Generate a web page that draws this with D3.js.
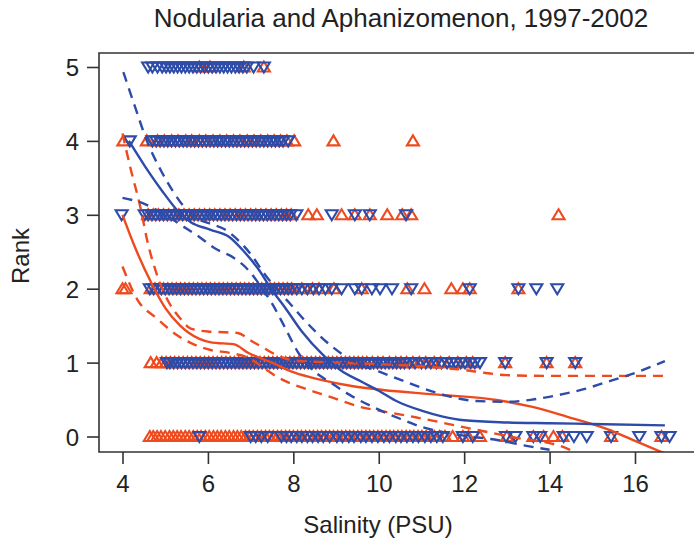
<!DOCTYPE html>
<html>
<head>
<meta charset="utf-8">
<script src="https://cdn.jsdelivr.net/npm/d3@7"></script>
<style>
  body { margin: 0; background: #fff; }
  text { font-family: "Liberation Sans", Arial, sans-serif; fill: #222; }
</style>
</head>
<body>
<div id="chart"></div>
<script>
// salinity values (PSU) of the observations, one array per rank
// Nodularia (orange, up triangles)
const nod0 = [4.64,4.72,4.81,4.9,5.0,5.1,5.19,5.28,5.37,5.47,5.56,5.66,5.75,5.84,5.94,6.03,6.13,6.22,6.31,6.41,6.5,6.6,6.69,6.78,6.88,6.97,7.06,7.16,7.25,7.35,7.44,7.53,7.63,7.72,7.82,7.91,8.0,8.1,8.19,8.29,8.38,8.47,8.57,8.66,8.76,8.85,8.94,9.04,9.13,9.23,9.32,9.41,9.51,9.6,9.7,9.79,9.88,9.98,10.07,10.17,10.26,10.35,10.45,10.54,10.64,10.73,10.82,10.92,11.01,11.11,11.2,11.3,11.42,11.55,11.73,11.97,12.1,12.37,13.0,13.62,13.86,14.09,14.3,15.44,16.62];
const nod1 = [4.66,4.8,4.92,5.02,5.12,5.22,5.32,5.42,5.52,5.62,5.72,5.82,5.92,6.02,6.12,6.22,6.32,6.42,6.52,6.62,6.72,6.82,6.92,7.02,7.12,7.22,7.32,7.42,7.52,7.62,7.72,7.82,7.92,8.02,8.12,8.22,8.32,8.42,8.52,8.62,8.72,8.82,8.92,9.02,9.12,9.22,9.32,9.42,9.52,9.62,9.72,9.85,9.98,10.1,10.25,10.4,10.52,10.65,10.8,10.95,11.1,11.3,11.45,11.65,11.85,12.05,12.2,12.96,13.93,14.6];
const nod2 = [4.0,4.07,4.66,4.76,4.86,4.96,5.06,5.16,5.26,5.36,5.46,5.56,5.66,5.76,5.86,5.96,6.06,6.16,6.26,6.36,6.46,6.56,6.66,6.76,6.86,6.96,7.06,7.16,7.26,7.36,7.46,7.56,7.66,7.76,7.86,7.96,8.2,8.45,8.6,8.95,9.6,10.67,11.07,11.7,11.97,12.13,13.27];
const nod3 = [4.6,4.72,4.84,4.96,5.08,5.2,5.32,5.44,5.56,5.68,5.8,5.92,6.04,6.16,6.28,6.4,6.52,6.64,6.76,6.88,7.0,7.12,7.24,7.36,7.48,7.6,7.72,7.84,7.95,8.35,8.55,9.13,9.44,9.79,10.2,10.55,10.76,14.21];
const nod4 = [4.02,4.57,4.82,4.98,5.15,5.3,5.48,5.62,5.8,5.95,6.12,6.28,6.44,6.6,6.75,6.92,7.08,7.24,7.4,7.55,7.7,7.85,8.02,8.94,10.8];
const nod5 = [5.8,6.05,6.84,7.31];

// Aphanizomenon (blue, down triangles)
const aph0 = [5.8,7.0,7.12,7.25,7.4,7.72,7.84,7.95,8.08,8.2,8.33,8.45,8.58,8.7,8.85,9.02,9.15,9.3,9.42,9.58,9.7,9.84,9.98,10.12,10.25,10.4,10.52,10.66,10.8,10.93,11.08,11.22,11.36,11.5,11.97,12.2,12.98,13.2,13.62,13.78,14.33,14.57,14.87,15.44,16.1,16.62,16.81];
const aph1 = [5.04,5.11,5.2,5.29,5.38,5.47,5.56,5.65,5.74,5.83,5.92,6.01,6.1,6.19,6.28,6.37,6.46,6.55,6.64,6.73,6.82,6.91,7.0,7.09,7.18,7.27,7.36,7.45,7.54,7.63,7.72,7.81,7.9,7.99,8.08,8.17,8.26,8.35,8.44,8.53,8.62,8.71,8.8,8.89,8.98,9.07,9.16,9.25,9.34,9.43,9.52,9.61,9.7,9.79,9.88,9.97,10.06,10.15,10.24,10.33,10.42,10.51,10.6,10.72,10.85,11.0,11.1,11.22,11.35,11.47,11.6,11.7,11.8,11.92,12.02,12.15,12.25,12.37,12.96,13.93,14.6];
const aph2 = [4.64,4.73,4.82,4.91,5.0,5.09,5.18,5.27,5.36,5.45,5.54,5.63,5.72,5.81,5.9,5.99,6.08,6.17,6.26,6.35,6.44,6.53,6.62,6.71,6.8,6.89,6.98,7.07,7.16,7.25,7.34,7.43,7.52,7.61,7.7,7.79,7.88,7.97,8.08,8.2,8.33,8.47,8.6,8.75,8.9,9.13,9.44,9.6,9.84,10.03,10.31,10.76,12.13,13.27,13.69,14.18];
const aph3 = [3.98,4.52,4.6,4.69,4.78,4.87,4.96,5.05,5.14,5.23,5.32,5.41,5.5,5.59,5.68,5.77,5.86,5.95,6.04,6.13,6.22,6.31,6.4,6.49,6.58,6.67,6.76,6.85,6.94,7.03,7.12,7.21,7.3,7.39,7.48,7.57,7.66,7.75,7.84,7.93,8.07,8.9,9.44,9.79,10.64];
const aph4 = [4.17,4.7,4.79,4.88,4.97,5.06,5.15,5.24,5.33,5.42,5.51,5.6,5.69,5.78,5.87,5.96,6.05,6.14,6.23,6.32,6.41,6.5,6.59,6.68,6.77,6.86,6.95,7.04,7.13,7.22,7.31,7.4,7.49,7.58,7.67,7.76,7.88];
const aph5 = [4.6,4.7,4.82,4.93,5.02,5.11,5.2,5.29,5.38,5.47,5.56,5.65,5.74,5.83,5.92,6.01,6.1,6.19,6.28,6.37,6.46,6.55,6.64,6.73,6.82,6.91,7.07,7.31];

// fitted curves and bands, [salinity, rank]
const nodFit = [[4.0,3.0],[4.3,2.55],[4.7,2.05],[5.0,1.74],[5.35,1.5],[5.8,1.32],[6.1,1.27],[6.35,1.26],[6.6,1.25],[6.95,1.13],[7.5,1.0],[8.0,0.87],[8.7,0.76],[9.4,0.68],[10.1,0.63],[11.3,0.57],[12.8,0.49],[13.6,0.4],[14.4,0.27],[15.35,0.1],[16.0,-0.06],[16.7,-0.23]];
const nodHi = [[4.0,4.1],[4.2,3.6],[4.4,3.15],[4.6,2.6],[4.8,2.2],[5.1,1.8],[5.35,1.6],[5.6,1.46],[6.0,1.42],[6.4,1.41],[6.7,1.4],[7.0,1.3],[7.3,1.2],[7.65,1.09],[8.0,1.03],[9.0,1.0],[10.0,0.98],[11.0,0.95],[12.0,0.9],[12.5,0.86],[13.0,0.83],[14.0,0.82],[16.7,0.82]];
const nodLo = [[4.0,2.3],[4.35,1.85],[4.8,1.6],[5.28,1.37],[5.58,1.27],[6.06,1.17],[6.53,1.13],[7.0,1.05],[7.3,0.93],[7.64,0.8],[8.26,0.65],[8.9,0.53],[9.5,0.41],[10.2,0.33],[10.86,0.26],[12.04,0.12],[13.15,-0.01],[14.4,-0.16],[14.6,-0.22]];
const aphFit = [[4.15,4.0],[4.5,3.68],[4.92,3.33],[5.3,3.05],[5.6,2.9],[6.05,2.8],[6.5,2.7],[6.85,2.5],[7.2,2.25],[7.5,1.98],[7.8,1.75],[8.2,1.42],[8.7,1.1],[9.1,0.9],[9.6,0.74],[10.0,0.62],[10.45,0.47],[11.0,0.35],[11.5,0.27],[12.0,0.22],[13.0,0.19],[14.0,0.18],[15.0,0.17],[16.7,0.15]];
const aphHi = [[4.02,4.93],[4.3,4.45],[4.57,4.0],[4.9,3.6],[5.18,3.32],[5.5,3.07],[5.75,2.95],[6.1,2.87],[6.4,2.8],[6.7,2.66],[7.0,2.47],[7.3,2.22],[7.6,2.0],[7.95,1.78],[8.3,1.55],[8.9,1.22],[9.5,0.99],[10.0,0.88],[10.5,0.77],[11.0,0.66],[11.6,0.55],[12.3,0.48],[13.0,0.47],[13.6,0.5],[14.2,0.56],[14.8,0.64],[15.3,0.73],[15.9,0.84],[16.7,1.02]];
const aphLo = [[4.0,3.23],[4.5,3.15],[5.0,3.0],[5.4,2.85],[5.8,2.7],[6.15,2.55],[6.6,2.42],[6.95,2.25],[7.25,2.02],[7.5,1.8],[7.8,1.48],[8.1,1.15],[8.4,0.93],[8.9,0.72],[9.3,0.57],[9.9,0.39],[10.5,0.24],[11.0,0.13],[11.5,0.06],[12.0,0.01],[12.8,-0.05],[13.4,-0.12],[14.0,-0.18]];

const xTicks = [4, 6, 8, 10, 12, 14, 16];
const yTicks = [0, 1, 2, 3, 4, 5];

const orange = "#ee4a1e", blue = "#2d4ba8";
const width = 694, height = 546;
const plot = {left: 99, top: 53, bottom: 452, right: 700};

const svg = d3.select("#chart")
  .append("svg")
  .attr("width", width)
  .attr("height", height);

const x = d3.scaleLinear().domain([4, 16]).range([122.5, 635]);
const y = d3.scaleLinear().domain([0, 5]).range([436.5, 67]);

// clip for curves
svg.append("clipPath").attr("id", "clip")
  .append("rect")
  .attr("x", plot.left).attr("y", plot.top)
  .attr("width", plot.right - plot.left).attr("height", plot.bottom - plot.top);

// points
const up = "M0,-5.5L6,4.5L-6,4.5Z", down = "M0,5.5L6,-4.5L-6,-4.5Z";
function drawPoints(rows, path, color) {
  rows.forEach(function(vals, rank) {
    svg.append("g").selectAll("path")
      .data(vals)
      .join("path")
      .attr("d", path)
      .attr("transform", d => `translate(${x(d)},${y(rank)})`)
      .attr("fill", "none")
      .attr("stroke", color)
      .attr("stroke-width", 2.1);
  });
}
drawPoints([nod0, nod1, nod2, nod3, nod4, nod5], up, orange);
drawPoints([aph0, aph1, aph2, aph3, aph4, aph5], down, blue);

// curves
const line = d3.line()
  .x(d => x(d[0]))
  .y(d => y(d[1]))
  .curve(d3.curveMonotoneX);
function drawCurve(data, color, dashed) {
  svg.append("path")
    .datum(data)
    .attr("clip-path", "url(#clip)")
    .attr("fill", "none")
    .attr("stroke", color)
    .attr("stroke-width", 2.4)
    .attr("stroke-dasharray", dashed ? "10,7" : null)
    .attr("d", line);
}
drawCurve(nodFit, orange, false);
drawCurve(nodHi, orange, true);
drawCurve(nodLo, orange, true);
drawCurve(aphFit, blue, false);
drawCurve(aphHi, blue, true);
drawCurve(aphLo, blue, true);

// frame
svg.append("path")
  .attr("d", `M${plot.right},${plot.top}H${plot.left}V${plot.bottom}H${plot.right}`)
  .attr("fill", "none")
  .attr("stroke", "#333")
  .attr("stroke-width", 1.6);

// axes
const xAxis = svg.append("g")
  .attr("transform", `translate(0,${plot.bottom})`)
  .call(d3.axisBottom(x).tickValues(xTicks).tickFormat(d3.format("d")).tickSize(12).tickPadding(11));
const yAxis = svg.append("g")
  .attr("transform", `translate(${plot.left},0)`)
  .call(d3.axisLeft(y).tickValues(yTicks).tickFormat(d3.format("d")).tickSize(12).tickPadding(8));
[xAxis, yAxis].forEach(function(a) {
  a.select(".domain").remove();
  a.selectAll("line").attr("stroke", "#333").attr("stroke-width", 1.6);
  a.selectAll("text").attr("font-size", 24).attr("fill", "#222")
    .style("font-family", "'Liberation Sans', Arial, sans-serif");
});
yAxis.selectAll("text").attr("dy", "0.36em");

// titles
svg.append("text")
  .attr("x", 401).attr("y", 27)
  .attr("text-anchor", "middle")
  .attr("font-size", 26)
  .text("Nodularia and Aphanizomenon, 1997-2002");
svg.append("text")
  .attr("x", 378).attr("y", 533)
  .attr("text-anchor", "middle")
  .attr("font-size", 24)
  .text("Salinity (PSU)");
svg.append("text")
  .attr("transform", "translate(29,256) rotate(-90)")
  .attr("text-anchor", "middle")
  .attr("font-size", 24)
  .text("Rank");
</script>
</body>
</html>
